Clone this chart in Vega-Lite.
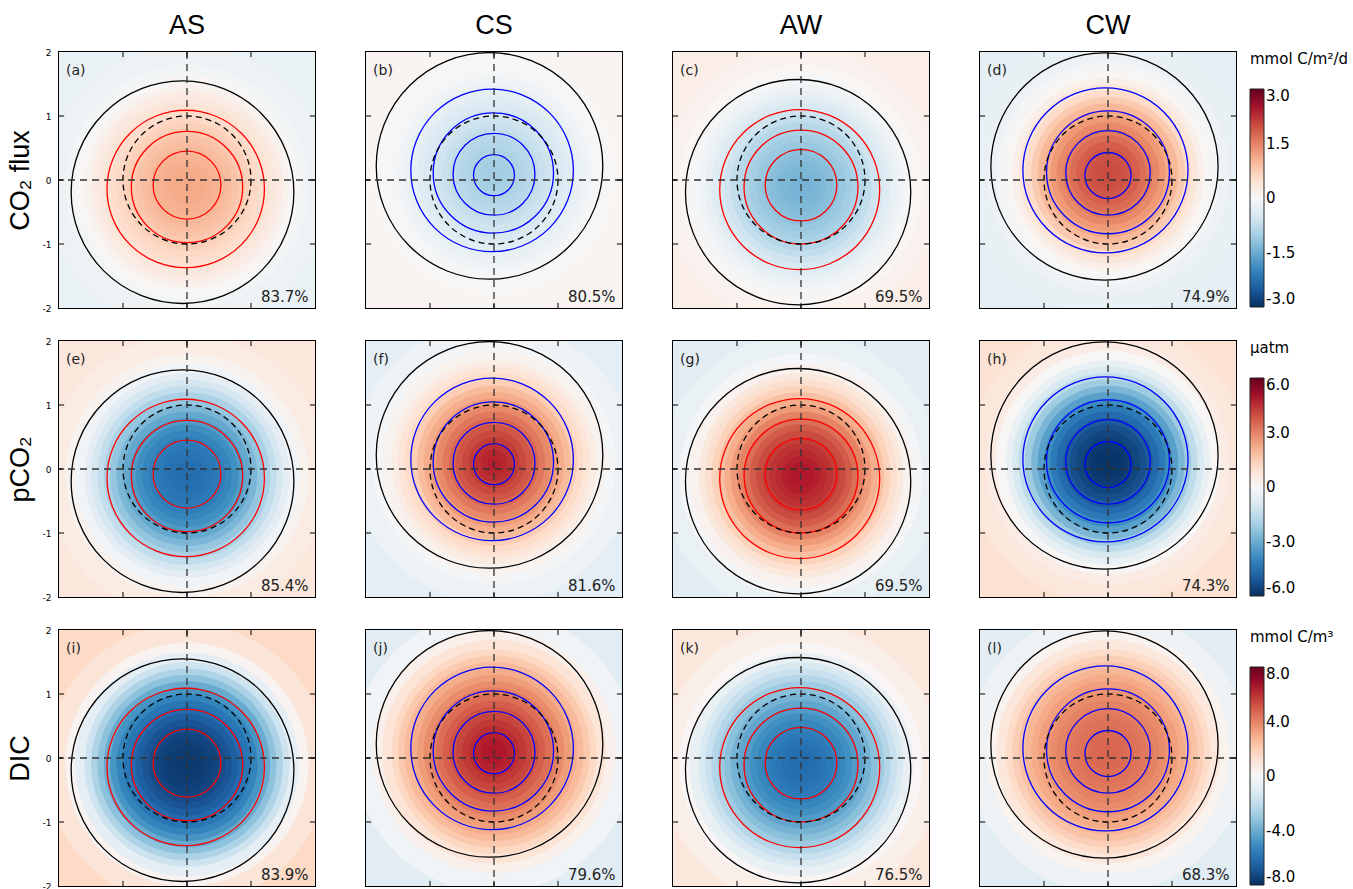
{
"$schema":"https://vega.github.io/schema/vega-lite/v6.json",
"background":"white",
"padding":{"left":6,"top":12,"right":0,"bottom":0},
"datasets":{"d":[
{"k":"g","m":"f","c":"AS","y":-0.1,"r":3,"v":-0.2},{"k":"g","m":"f","c":"AS","y":-0.1,"r":2.2,"v":-0.15},{"k":"g","m":"f","c":"AS","y":-0.1,"r":1.9,"v":-0.08},{"k":"g","m":"f","c":"AS","y":-0.1,"r":1.75,"v":0.02},{"k":"g","m":"f","c":"AS","y":-0.1,"r":1.6,"v":0.12},{"k":"g","m":"f","c":"AS","y":-0.1,"r":1.5,"v":0.23},{"k":"g","m":"f","c":"AS","y":-0.1,"r":1.4,"v":0.32},{"k":"g","m":"f","c":"AS","y":-0.1,"r":1.3,"v":0.43},{"k":"g","m":"f","c":"AS","y":-0.1,"r":1.2,"v":0.53},{"k":"g","m":"f","c":"AS","y":-0.1,"r":1.1,"v":0.62},{"k":"g","m":"f","c":"AS","y":-0.1,"r":1.0,"v":0.71},{"k":"g","m":"f","c":"AS","y":-0.1,"r":0.9,"v":0.79},{"k":"g","m":"f","c":"AS","y":-0.1,"r":0.8,"v":0.87},{"k":"g","m":"f","c":"AS","y":-0.1,"r":0.7,"v":0.94},{"k":"g","m":"f","c":"AS","y":-0.1,"r":0.6,"v":1.0},{"k":"g","m":"f","c":"AS","y":-0.1,"r":0.5,"v":1.05},{"k":"g","m":"f","c":"AS","y":-0.1,"r":0.4,"v":1.08},{"k":"g","m":"f","c":"AS","y":-0.1,"r":0.3,"v":1.12},{"k":"g","m":"f","c":"AS","y":-0.1,"r":0.2,"v":1.14},{"k":"g","m":"f","c":"AS","y":-0.1,"r":0.1,"v":1.15},
{"k":"g","m":"f","c":"CS","y":0.1,"r":3,"v":0.08},{"k":"g","m":"f","c":"CS","y":0.1,"r":2.2,"v":0.06},{"k":"g","m":"f","c":"CS","y":0.1,"r":1.9,"v":0.03},{"k":"g","m":"f","c":"CS","y":0.1,"r":1.75,"v":-0.02},{"k":"g","m":"f","c":"CS","y":0.1,"r":1.6,"v":-0.07},{"k":"g","m":"f","c":"CS","y":0.1,"r":1.5,"v":-0.13},{"k":"g","m":"f","c":"CS","y":0.1,"r":1.4,"v":-0.2},{"k":"g","m":"f","c":"CS","y":0.1,"r":1.3,"v":-0.28},{"k":"g","m":"f","c":"CS","y":0.1,"r":1.2,"v":-0.36},{"k":"g","m":"f","c":"CS","y":0.1,"r":1.1,"v":-0.45},{"k":"g","m":"f","c":"CS","y":0.1,"r":1.0,"v":-0.53},{"k":"g","m":"f","c":"CS","y":0.1,"r":0.9,"v":-0.61},{"k":"g","m":"f","c":"CS","y":0.1,"r":0.8,"v":-0.69},{"k":"g","m":"f","c":"CS","y":0.1,"r":0.7,"v":-0.77},{"k":"g","m":"f","c":"CS","y":0.1,"r":0.6,"v":-0.84},{"k":"g","m":"f","c":"CS","y":0.1,"r":0.5,"v":-0.9},{"k":"g","m":"f","c":"CS","y":0.1,"r":0.4,"v":-0.95},{"k":"g","m":"f","c":"CS","y":0.1,"r":0.3,"v":-1.0},{"k":"g","m":"f","c":"CS","y":0.1,"r":0.2,"v":-1.03},{"k":"g","m":"f","c":"CS","y":0.1,"r":0.1,"v":-1.05},
{"k":"g","m":"f","c":"AW","y":-0.1,"r":3,"v":0.2},{"k":"g","m":"f","c":"AW","y":-0.1,"r":2.2,"v":0.12},{"k":"g","m":"f","c":"AW","y":-0.1,"r":1.9,"v":0.05},{"k":"g","m":"f","c":"AW","y":-0.1,"r":1.75,"v":-0.05},{"k":"g","m":"f","c":"AW","y":-0.1,"r":1.6,"v":-0.14},{"k":"g","m":"f","c":"AW","y":-0.1,"r":1.5,"v":-0.24},{"k":"g","m":"f","c":"AW","y":-0.1,"r":1.4,"v":-0.36},{"k":"g","m":"f","c":"AW","y":-0.1,"r":1.3,"v":-0.48},{"k":"g","m":"f","c":"AW","y":-0.1,"r":1.2,"v":-0.62},{"k":"g","m":"f","c":"AW","y":-0.1,"r":1.1,"v":-0.75},{"k":"g","m":"f","c":"AW","y":-0.1,"r":1.0,"v":-0.86},{"k":"g","m":"f","c":"AW","y":-0.1,"r":0.9,"v":-0.96},{"k":"g","m":"f","c":"AW","y":-0.1,"r":0.8,"v":-1.05},{"k":"g","m":"f","c":"AW","y":-0.1,"r":0.7,"v":-1.14},{"k":"g","m":"f","c":"AW","y":-0.1,"r":0.6,"v":-1.22},{"k":"g","m":"f","c":"AW","y":-0.1,"r":0.5,"v":-1.28},{"k":"g","m":"f","c":"AW","y":-0.1,"r":0.4,"v":-1.33},{"k":"g","m":"f","c":"AW","y":-0.1,"r":0.3,"v":-1.37},{"k":"g","m":"f","c":"AW","y":-0.1,"r":0.2,"v":-1.4},{"k":"g","m":"f","c":"AW","y":-0.1,"r":0.1,"v":-1.42},
{"k":"g","m":"f","c":"CW","y":0.1,"r":3,"v":-0.28},{"k":"g","m":"f","c":"CW","y":0.1,"r":2.2,"v":-0.22},{"k":"g","m":"f","c":"CW","y":0.1,"r":1.9,"v":-0.16},{"k":"g","m":"f","c":"CW","y":0.1,"r":1.75,"v":-0.07},{"k":"g","m":"f","c":"CW","y":0.1,"r":1.6,"v":0.05},{"k":"g","m":"f","c":"CW","y":0.1,"r":1.5,"v":0.18},{"k":"g","m":"f","c":"CW","y":0.1,"r":1.4,"v":0.36},{"k":"g","m":"f","c":"CW","y":0.1,"r":1.3,"v":0.56},{"k":"g","m":"f","c":"CW","y":0.1,"r":1.2,"v":0.78},{"k":"g","m":"f","c":"CW","y":0.1,"r":1.1,"v":0.98},{"k":"g","m":"f","c":"CW","y":0.1,"r":1.0,"v":1.15},{"k":"g","m":"f","c":"CW","y":0.1,"r":0.9,"v":1.31},{"k":"g","m":"f","c":"CW","y":0.1,"r":0.8,"v":1.45},{"k":"g","m":"f","c":"CW","y":0.1,"r":0.7,"v":1.58},{"k":"g","m":"f","c":"CW","y":0.1,"r":0.6,"v":1.7},{"k":"g","m":"f","c":"CW","y":0.1,"r":0.5,"v":1.8},{"k":"g","m":"f","c":"CW","y":0.1,"r":0.4,"v":1.88},{"k":"g","m":"f","c":"CW","y":0.1,"r":0.3,"v":1.94},{"k":"g","m":"f","c":"CW","y":0.1,"r":0.2,"v":1.98},{"k":"g","m":"f","c":"CW","y":0.1,"r":0.1,"v":2.0},
{"k":"g","m":"p","c":"AS","y":-0.1,"r":3,"v":0.7},{"k":"g","m":"p","c":"AS","y":-0.1,"r":2.2,"v":0.5},{"k":"g","m":"p","c":"AS","y":-0.1,"r":1.9,"v":0.2},{"k":"g","m":"p","c":"AS","y":-0.1,"r":1.75,"v":-0.2},{"k":"g","m":"p","c":"AS","y":-0.1,"r":1.6,"v":-0.65},{"k":"g","m":"p","c":"AS","y":-0.1,"r":1.5,"v":-1.05},{"k":"g","m":"p","c":"AS","y":-0.1,"r":1.4,"v":-1.5},{"k":"g","m":"p","c":"AS","y":-0.1,"r":1.3,"v":-1.95},{"k":"g","m":"p","c":"AS","y":-0.1,"r":1.2,"v":-2.35},{"k":"g","m":"p","c":"AS","y":-0.1,"r":1.1,"v":-2.75},{"k":"g","m":"p","c":"AS","y":-0.1,"r":1.0,"v":-3.1},{"k":"g","m":"p","c":"AS","y":-0.1,"r":0.9,"v":-3.4},{"k":"g","m":"p","c":"AS","y":-0.1,"r":0.8,"v":-3.7},{"k":"g","m":"p","c":"AS","y":-0.1,"r":0.7,"v":-3.95},{"k":"g","m":"p","c":"AS","y":-0.1,"r":0.6,"v":-4.15},{"k":"g","m":"p","c":"AS","y":-0.1,"r":0.5,"v":-4.3},{"k":"g","m":"p","c":"AS","y":-0.1,"r":0.4,"v":-4.4},{"k":"g","m":"p","c":"AS","y":-0.1,"r":0.3,"v":-4.5},{"k":"g","m":"p","c":"AS","y":-0.1,"r":0.2,"v":-4.57},{"k":"g","m":"p","c":"AS","y":-0.1,"r":0.1,"v":-4.6},
{"k":"g","m":"p","c":"CS","y":0.1,"r":3,"v":-0.6},{"k":"g","m":"p","c":"CS","y":0.1,"r":2.2,"v":-0.35},{"k":"g","m":"p","c":"CS","y":0.1,"r":1.9,"v":-0.1},{"k":"g","m":"p","c":"CS","y":0.1,"r":1.75,"v":0.2},{"k":"g","m":"p","c":"CS","y":0.1,"r":1.6,"v":0.5},{"k":"g","m":"p","c":"CS","y":0.1,"r":1.5,"v":0.8},{"k":"g","m":"p","c":"CS","y":0.1,"r":1.4,"v":1.15},{"k":"g","m":"p","c":"CS","y":0.1,"r":1.3,"v":1.5},{"k":"g","m":"p","c":"CS","y":0.1,"r":1.2,"v":1.9},{"k":"g","m":"p","c":"CS","y":0.1,"r":1.1,"v":2.25},{"k":"g","m":"p","c":"CS","y":0.1,"r":1.0,"v":2.6},{"k":"g","m":"p","c":"CS","y":0.1,"r":0.9,"v":2.9},{"k":"g","m":"p","c":"CS","y":0.1,"r":0.8,"v":3.2},{"k":"g","m":"p","c":"CS","y":0.1,"r":0.7,"v":3.5},{"k":"g","m":"p","c":"CS","y":0.1,"r":0.6,"v":3.8},{"k":"g","m":"p","c":"CS","y":0.1,"r":0.5,"v":4.05},{"k":"g","m":"p","c":"CS","y":0.1,"r":0.4,"v":4.3},{"k":"g","m":"p","c":"CS","y":0.1,"r":0.3,"v":4.5},{"k":"g","m":"p","c":"CS","y":0.1,"r":0.2,"v":4.65},{"k":"g","m":"p","c":"CS","y":0.1,"r":0.1,"v":4.75},
{"k":"g","m":"p","c":"AW","y":-0.1,"r":3,"v":-0.7},{"k":"g","m":"p","c":"AW","y":-0.1,"r":2.2,"v":-0.4},{"k":"g","m":"p","c":"AW","y":-0.1,"r":1.9,"v":-0.1},{"k":"g","m":"p","c":"AW","y":-0.1,"r":1.75,"v":0.25},{"k":"g","m":"p","c":"AW","y":-0.1,"r":1.6,"v":0.65},{"k":"g","m":"p","c":"AW","y":-0.1,"r":1.5,"v":1.0},{"k":"g","m":"p","c":"AW","y":-0.1,"r":1.4,"v":1.4},{"k":"g","m":"p","c":"AW","y":-0.1,"r":1.3,"v":1.8},{"k":"g","m":"p","c":"AW","y":-0.1,"r":1.2,"v":2.2},{"k":"g","m":"p","c":"AW","y":-0.1,"r":1.1,"v":2.6},{"k":"g","m":"p","c":"AW","y":-0.1,"r":1.0,"v":3.0},{"k":"g","m":"p","c":"AW","y":-0.1,"r":0.9,"v":3.35},{"k":"g","m":"p","c":"AW","y":-0.1,"r":0.8,"v":3.7},{"k":"g","m":"p","c":"AW","y":-0.1,"r":0.7,"v":4.0},{"k":"g","m":"p","c":"AW","y":-0.1,"r":0.6,"v":4.25},{"k":"g","m":"p","c":"AW","y":-0.1,"r":0.5,"v":4.45},{"k":"g","m":"p","c":"AW","y":-0.1,"r":0.4,"v":4.6},{"k":"g","m":"p","c":"AW","y":-0.1,"r":0.3,"v":4.72},{"k":"g","m":"p","c":"AW","y":-0.1,"r":0.2,"v":4.8},{"k":"g","m":"p","c":"AW","y":-0.1,"r":0.1,"v":4.85},
{"k":"g","m":"p","c":"CW","y":0.1,"r":3,"v":0.9},{"k":"g","m":"p","c":"CW","y":0.1,"r":2.2,"v":0.7},{"k":"g","m":"p","c":"CW","y":0.1,"r":1.9,"v":0.45},{"k":"g","m":"p","c":"CW","y":0.1,"r":1.75,"v":0.05},{"k":"g","m":"p","c":"CW","y":0.1,"r":1.6,"v":-0.45},{"k":"g","m":"p","c":"CW","y":0.1,"r":1.5,"v":-0.95},{"k":"g","m":"p","c":"CW","y":0.1,"r":1.4,"v":-1.55},{"k":"g","m":"p","c":"CW","y":0.1,"r":1.3,"v":-2.15},{"k":"g","m":"p","c":"CW","y":0.1,"r":1.2,"v":-2.75},{"k":"g","m":"p","c":"CW","y":0.1,"r":1.1,"v":-3.3},{"k":"g","m":"p","c":"CW","y":0.1,"r":1.0,"v":-3.8},{"k":"g","m":"p","c":"CW","y":0.1,"r":0.9,"v":-4.3},{"k":"g","m":"p","c":"CW","y":0.1,"r":0.8,"v":-4.7},{"k":"g","m":"p","c":"CW","y":0.1,"r":0.7,"v":-5.05},{"k":"g","m":"p","c":"CW","y":0.1,"r":0.6,"v":-5.3},{"k":"g","m":"p","c":"CW","y":0.1,"r":0.5,"v":-5.5},{"k":"g","m":"p","c":"CW","y":0.1,"r":0.4,"v":-5.65},{"k":"g","m":"p","c":"CW","y":0.1,"r":0.3,"v":-5.78},{"k":"g","m":"p","c":"CW","y":0.1,"r":0.2,"v":-5.85},{"k":"g","m":"p","c":"CW","y":0.1,"r":0.1,"v":-5.9},
{"k":"g","m":"d","c":"AS","y":-0.1,"r":3,"v":1.6},{"k":"g","m":"d","c":"AS","y":-0.1,"r":2.2,"v":1.0},{"k":"g","m":"d","c":"AS","y":-0.1,"r":1.9,"v":0.2},{"k":"g","m":"d","c":"AS","y":-0.1,"r":1.75,"v":-0.8},{"k":"g","m":"d","c":"AS","y":-0.1,"r":1.6,"v":-1.7},{"k":"g","m":"d","c":"AS","y":-0.1,"r":1.5,"v":-2.5},{"k":"g","m":"d","c":"AS","y":-0.1,"r":1.4,"v":-3.3},{"k":"g","m":"d","c":"AS","y":-0.1,"r":1.3,"v":-4.05},{"k":"g","m":"d","c":"AS","y":-0.1,"r":1.2,"v":-4.75},{"k":"g","m":"d","c":"AS","y":-0.1,"r":1.1,"v":-5.35},{"k":"g","m":"d","c":"AS","y":-0.1,"r":1.0,"v":-5.85},{"k":"g","m":"d","c":"AS","y":-0.1,"r":0.9,"v":-6.25},{"k":"g","m":"d","c":"AS","y":-0.1,"r":0.8,"v":-6.6},{"k":"g","m":"d","c":"AS","y":-0.1,"r":0.7,"v":-6.9},{"k":"g","m":"d","c":"AS","y":-0.1,"r":0.6,"v":-7.15},{"k":"g","m":"d","c":"AS","y":-0.1,"r":0.5,"v":-7.35},{"k":"g","m":"d","c":"AS","y":-0.1,"r":0.4,"v":-7.5},{"k":"g","m":"d","c":"AS","y":-0.1,"r":0.3,"v":-7.6},{"k":"g","m":"d","c":"AS","y":-0.1,"r":0.2,"v":-7.65},{"k":"g","m":"d","c":"AS","y":-0.1,"r":0.1,"v":-7.7},
{"k":"g","m":"d","c":"CS","y":0.1,"r":3,"v":-0.9},{"k":"g","m":"d","c":"CS","y":0.1,"r":2.2,"v":-0.3},{"k":"g","m":"d","c":"CS","y":0.1,"r":1.9,"v":0.4},{"k":"g","m":"d","c":"CS","y":0.1,"r":1.75,"v":1.1},{"k":"g","m":"d","c":"CS","y":0.1,"r":1.6,"v":1.7},{"k":"g","m":"d","c":"CS","y":0.1,"r":1.5,"v":2.15},{"k":"g","m":"d","c":"CS","y":0.1,"r":1.4,"v":2.6},{"k":"g","m":"d","c":"CS","y":0.1,"r":1.3,"v":3.0},{"k":"g","m":"d","c":"CS","y":0.1,"r":1.2,"v":3.4},{"k":"g","m":"d","c":"CS","y":0.1,"r":1.1,"v":3.8},{"k":"g","m":"d","c":"CS","y":0.1,"r":1.0,"v":4.15},{"k":"g","m":"d","c":"CS","y":0.1,"r":0.9,"v":4.5},{"k":"g","m":"d","c":"CS","y":0.1,"r":0.8,"v":4.85},{"k":"g","m":"d","c":"CS","y":0.1,"r":0.7,"v":5.2},{"k":"g","m":"d","c":"CS","y":0.1,"r":0.6,"v":5.5},{"k":"g","m":"d","c":"CS","y":0.1,"r":0.5,"v":5.8},{"k":"g","m":"d","c":"CS","y":0.1,"r":0.4,"v":6.05},{"k":"g","m":"d","c":"CS","y":0.1,"r":0.3,"v":6.25},{"k":"g","m":"d","c":"CS","y":0.1,"r":0.2,"v":6.4},{"k":"g","m":"d","c":"CS","y":0.1,"r":0.1,"v":6.5},
{"k":"g","m":"d","c":"AW","y":-0.1,"r":3,"v":0.9},{"k":"g","m":"d","c":"AW","y":-0.1,"r":2.2,"v":0.5},{"k":"g","m":"d","c":"AW","y":-0.1,"r":1.9,"v":0.1},{"k":"g","m":"d","c":"AW","y":-0.1,"r":1.75,"v":-0.6},{"k":"g","m":"d","c":"AW","y":-0.1,"r":1.6,"v":-1.25},{"k":"g","m":"d","c":"AW","y":-0.1,"r":1.5,"v":-1.8},{"k":"g","m":"d","c":"AW","y":-0.1,"r":1.4,"v":-2.35},{"k":"g","m":"d","c":"AW","y":-0.1,"r":1.3,"v":-2.9},{"k":"g","m":"d","c":"AW","y":-0.1,"r":1.2,"v":-3.35},{"k":"g","m":"d","c":"AW","y":-0.1,"r":1.1,"v":-3.8},{"k":"g","m":"d","c":"AW","y":-0.1,"r":1.0,"v":-4.2},{"k":"g","m":"d","c":"AW","y":-0.1,"r":0.9,"v":-4.55},{"k":"g","m":"d","c":"AW","y":-0.1,"r":0.8,"v":-4.9},{"k":"g","m":"d","c":"AW","y":-0.1,"r":0.7,"v":-5.2},{"k":"g","m":"d","c":"AW","y":-0.1,"r":0.6,"v":-5.5},{"k":"g","m":"d","c":"AW","y":-0.1,"r":0.5,"v":-5.7},{"k":"g","m":"d","c":"AW","y":-0.1,"r":0.4,"v":-5.9},{"k":"g","m":"d","c":"AW","y":-0.1,"r":0.3,"v":-6.05},{"k":"g","m":"d","c":"AW","y":-0.1,"r":0.2,"v":-6.15},{"k":"g","m":"d","c":"AW","y":-0.1,"r":0.1,"v":-6.2},
{"k":"g","m":"d","c":"CW","y":0.1,"r":3,"v":-0.9},{"k":"g","m":"d","c":"CW","y":0.1,"r":2.2,"v":-0.4},{"k":"g","m":"d","c":"CW","y":0.1,"r":1.9,"v":0.25},{"k":"g","m":"d","c":"CW","y":0.1,"r":1.75,"v":0.9},{"k":"g","m":"d","c":"CW","y":0.1,"r":1.6,"v":1.5},{"k":"g","m":"d","c":"CW","y":0.1,"r":1.5,"v":1.95},{"k":"g","m":"d","c":"CW","y":0.1,"r":1.4,"v":2.35},{"k":"g","m":"d","c":"CW","y":0.1,"r":1.3,"v":2.7},{"k":"g","m":"d","c":"CW","y":0.1,"r":1.2,"v":3.05},{"k":"g","m":"d","c":"CW","y":0.1,"r":1.1,"v":3.35},{"k":"g","m":"d","c":"CW","y":0.1,"r":1.0,"v":3.6},{"k":"g","m":"d","c":"CW","y":0.1,"r":0.9,"v":3.8},{"k":"g","m":"d","c":"CW","y":0.1,"r":0.8,"v":4.0},{"k":"g","m":"d","c":"CW","y":0.1,"r":0.7,"v":4.15},{"k":"g","m":"d","c":"CW","y":0.1,"r":0.6,"v":4.3},{"k":"g","m":"d","c":"CW","y":0.1,"r":0.5,"v":4.4},{"k":"g","m":"d","c":"CW","y":0.1,"r":0.4,"v":4.5},{"k":"g","m":"d","c":"CW","y":0.1,"r":0.3,"v":4.6},{"k":"g","m":"d","c":"CW","y":0.1,"r":0.2,"v":4.65},{"k":"g","m":"d","c":"CW","y":0.1,"r":0.1,"v":4.7},
{"k":"c","c":"AS","x":-0.07,"y":-0.19,"r":1.74,"s":"zero"},{"k":"c","c":"AS","x":-0.02,"y":-0.14,"r":1.23,"s":"pos"},{"k":"c","c":"AS","x":0,"y":-0.11,"r":0.87,"s":"pos"},{"k":"c","c":"AS","x":0,"y":-0.08,"r":0.53,"s":"pos"},
{"k":"c","c":"CS","x":-0.07,"y":0.22,"r":1.77,"s":"zero"},{"k":"c","c":"CS","x":-0.03,"y":0.15,"r":1.27,"s":"neg"},{"k":"c","c":"CS","x":-0.01,"y":0.11,"r":0.94,"s":"neg"},{"k":"c","c":"CS","x":0,"y":0.09,"r":0.64,"s":"neg"},{"k":"c","c":"CS","x":0,"y":0.075,"r":0.32,"s":"neg"},
{"k":"c","c":"AW","x":-0.045,"y":-0.19,"r":1.76,"s":"zero"},{"k":"c","c":"AW","x":-0.02,"y":-0.15,"r":1.25,"s":"pos"},{"k":"c","c":"AW","x":0,"y":-0.11,"r":0.89,"s":"pos"},{"k":"c","c":"AW","x":0,"y":-0.08,"r":0.56,"s":"pos"},
{"k":"c","c":"CW","x":-0.055,"y":0.21,"r":1.775,"s":"zero"},{"k":"c","c":"CW","x":-0.04,"y":0.15,"r":1.29,"s":"neg"},{"k":"c","c":"CW","x":0,"y":0.12,"r":0.96,"s":"neg"},{"k":"c","c":"CW","x":0,"y":0.11,"r":0.66,"s":"neg"},{"k":"c","c":"CW","x":0,"y":0.07,"r":0.36,"s":"neg"},
{"k":"o","c":"AS","r":1},{"k":"o","c":"CS","r":1},{"k":"o","c":"AW","r":1},{"k":"o","c":"CW","r":1},
{"k":"tk","c":"AS","t":-1},{"k":"tk","c":"AS","t":0},{"k":"tk","c":"AS","t":1},
{"k":"tk","c":"CS","t":-1},{"k":"tk","c":"CS","t":0},{"k":"tk","c":"CS","t":1},
{"k":"tk","c":"AW","t":-1},{"k":"tk","c":"AW","t":0},{"k":"tk","c":"AW","t":1},
{"k":"tk","c":"CW","t":-1},{"k":"tk","c":"CW","t":0},{"k":"tk","c":"CW","t":1},
{"k":"t","m":"f","c":"AS","tag":"(a)","pct":"83.7%"},{"k":"t","m":"f","c":"CS","tag":"(b)","pct":"80.5%"},{"k":"t","m":"f","c":"AW","tag":"(c)","pct":"69.5%"},{"k":"t","m":"f","c":"CW","tag":"(d)","pct":"74.9%"},
{"k":"t","m":"p","c":"AS","tag":"(e)","pct":"85.4%"},{"k":"t","m":"p","c":"CS","tag":"(f)","pct":"81.6%"},{"k":"t","m":"p","c":"AW","tag":"(g)","pct":"69.5%"},{"k":"t","m":"p","c":"CW","tag":"(h)","pct":"74.3%"},
{"k":"t","m":"d","c":"AS","tag":"(i)","pct":"83.9%"},{"k":"t","m":"d","c":"CS","tag":"(j)","pct":"79.6%"},{"k":"t","m":"d","c":"AW","tag":"(k)","pct":"76.5%"},{"k":"t","m":"d","c":"CW","tag":"(l)","pct":"68.3%"}
]},
"vconcat":[
{"data":{"name":"d"},
 "facet":{"column":{"field":"c","type":"nominal","sort":["AS","CS","AW","CW"],"title":null,"header":{"labelFontSize":27,"labelFont":"Liberation Sans","labelColor":"black","labelPadding":10}}},
 "spacing":47,
 "spec":{"width":256,"height":256,"layer":[
  {"transform":[{"filter":"datum.k=='g'&&datum.m=='f'"}],"mark":{"type":"point","shape":"circle","filled":true,"opacity":1,"strokeOpacity":0,"clip":true},
   "encoding":{"x":{"datum":0,"type":"quantitative","scale":{"domain":[-2,2],"nice":false,"zero":false},"axis":null},
    "y":{"field":"y","type":"quantitative","scale":{"domain":[-2,2],"nice":false,"zero":false},"axis":{"values":[-2,-1,0,1,2],"labelExpr":"(datum.value<0?'-':'')+abs(datum.value)","title":"CO₂ flux"}},
    "size":{"field":"r","type":"quantitative","scale":{"type":"pow","exponent":2,"domain":[0,2],"range":[0,65536]},"legend":null},
    "color":{"field":"v","type":"quantitative","scale":{"domain":[-3,-2.4,-1.8,-1.2,-0.6,0,0.6,1.2,1.8,2.4,3],"range":["#053061","#2166ac","#4393c3","#92c5de","#d1e5f0","#f7f7f7","#fddbc7","#f4a582","#d6604d","#b2182b","#67001f"]},"legend":{"title":"mmol C/m²/d","values":[-3,-1.5,0,1.5,3],"labelExpr":"datum.value==0?'0':(datum.value<0?'-':'')+format(abs(datum.value),'.1f')"}},
    "order":{"field":"r","type":"quantitative","sort":"descending"}}},
  {"transform":[{"filter":"datum.k=='c'"}],"mark":{"type":"point","shape":"circle","filled":false,"opacity":1,"strokeWidth":1.3,"clip":true},
   "encoding":{"x":{"field":"x","type":"quantitative","axis":null},"y":{"field":"y","type":"quantitative"},"size":{"field":"r","type":"quantitative","legend":null},
    "stroke":{"field":"s","type":"nominal","scale":{"domain":["pos","neg","zero"],"range":["#ff0000","#0000ff","#000000"]},"legend":null}}},
  {"transform":[{"filter":"datum.k=='o'"}],"mark":{"type":"point","shape":"circle","filled":false,"opacity":1,"stroke":"black","strokeWidth":1.3,"strokeDash":[6,4]},
   "encoding":{"x":{"datum":0,"type":"quantitative","axis":null},"y":{"datum":0,"type":"quantitative"},"size":{"field":"r","type":"quantitative","legend":null}}},
  {"transform":[{"filter":"datum.k=='t'&&datum.m=='f'"}],"mark":{"type":"rule","color":"#333","strokeWidth":1.3,"strokeDash":[7,5]},"encoding":{"x":{"datum":0,"type":"quantitative","axis":null}}},
  {"transform":[{"filter":"datum.k=='t'&&datum.m=='f'"}],"mark":{"type":"rule","color":"#333","strokeWidth":1.3,"strokeDash":[7,5]},"encoding":{"y":{"datum":0,"type":"quantitative"}}},
  {"transform":[{"filter":"datum.k=='tk'"}],"mark":{"type":"rule","color":"black"},"encoding":{"y":{"field":"t","type":"quantitative"},"x":{"datum":-2,"type":"quantitative","axis":null},"x2":{"datum":-1.92}}},
  {"transform":[{"filter":"datum.k=='tk'"}],"mark":{"type":"rule","color":"black"},"encoding":{"y":{"field":"t","type":"quantitative"},"x":{"datum":2,"type":"quantitative","axis":null},"x2":{"datum":1.92}}},
  {"transform":[{"filter":"datum.k=='tk'"}],"mark":{"type":"rule","color":"black"},"encoding":{"x":{"field":"t","type":"quantitative","axis":null},"y":{"datum":2,"type":"quantitative"},"y2":{"datum":1.92}}},
  {"transform":[{"filter":"datum.k=='tk'"}],"mark":{"type":"rule","color":"black"},"encoding":{"x":{"field":"t","type":"quantitative","axis":null},"y":{"datum":-2,"type":"quantitative"},"y2":{"datum":-1.92}}},
  {"transform":[{"filter":"datum.k=='t'&&datum.m=='f'"}],"mark":{"type":"text","align":"left","baseline":"middle","fontSize":14,"color":"#222"},"encoding":{"x":{"datum":-1.89,"type":"quantitative","axis":null},"y":{"datum":1.7,"type":"quantitative"},"text":{"field":"tag"}}},
  {"transform":[{"filter":"datum.k=='t'&&datum.m=='f'"}],"mark":{"type":"text","align":"right","baseline":"middle","fontSize":15,"color":"#222"},"encoding":{"x":{"datum":1.9,"type":"quantitative","axis":null},"y":{"datum":-1.83,"type":"quantitative"},"text":{"field":"pct"}}}
 ]}},
{"data":{"name":"d"},
 "facet":{"column":{"field":"c","type":"nominal","sort":["AS","CS","AW","CW"],"title":null,"header":{"labels":false}}},
 "spacing":47,
 "spec":{"width":256,"height":256,"layer":[
  {"transform":[{"filter":"datum.k=='g'&&datum.m=='p'"}],"mark":{"type":"point","shape":"circle","filled":true,"opacity":1,"strokeOpacity":0,"clip":true},
   "encoding":{"x":{"datum":0,"type":"quantitative","scale":{"domain":[-2,2],"nice":false,"zero":false},"axis":null},
    "y":{"field":"y","type":"quantitative","scale":{"domain":[-2,2],"nice":false,"zero":false},"axis":{"values":[-2,-1,0,1,2],"labelExpr":"(datum.value<0?'-':'')+abs(datum.value)","title":"pCO₂"}},
    "size":{"field":"r","type":"quantitative","scale":{"type":"pow","exponent":2,"domain":[0,2],"range":[0,65536]},"legend":null},
    "color":{"field":"v","type":"quantitative","scale":{"domain":[-6,-4.8,-3.6,-2.4,-1.2,0,1.2,2.4,3.6,4.8,6],"range":["#053061","#2166ac","#4393c3","#92c5de","#d1e5f0","#f7f7f7","#fddbc7","#f4a582","#d6604d","#b2182b","#67001f"]},"legend":{"title":"μatm","values":[-6,-3,0,3,6],"labelExpr":"datum.value==0?'0':(datum.value<0?'-':'')+format(abs(datum.value),'.1f')"}},
    "order":{"field":"r","type":"quantitative","sort":"descending"}}},
  {"transform":[{"filter":"datum.k=='c'"}],"mark":{"type":"point","shape":"circle","filled":false,"opacity":1,"strokeWidth":1.3,"clip":true},
   "encoding":{"x":{"field":"x","type":"quantitative","axis":null},"y":{"field":"y","type":"quantitative"},"size":{"field":"r","type":"quantitative","legend":null},
    "stroke":{"field":"s","type":"nominal","scale":{"domain":["pos","neg","zero"],"range":["#ff0000","#0000ff","#000000"]},"legend":null}}},
  {"transform":[{"filter":"datum.k=='o'"}],"mark":{"type":"point","shape":"circle","filled":false,"opacity":1,"stroke":"black","strokeWidth":1.3,"strokeDash":[6,4]},
   "encoding":{"x":{"datum":0,"type":"quantitative","axis":null},"y":{"datum":0,"type":"quantitative"},"size":{"field":"r","type":"quantitative","legend":null}}},
  {"transform":[{"filter":"datum.k=='t'&&datum.m=='p'"}],"mark":{"type":"rule","color":"#333","strokeWidth":1.3,"strokeDash":[7,5]},"encoding":{"x":{"datum":0,"type":"quantitative","axis":null}}},
  {"transform":[{"filter":"datum.k=='t'&&datum.m=='p'"}],"mark":{"type":"rule","color":"#333","strokeWidth":1.3,"strokeDash":[7,5]},"encoding":{"y":{"datum":0,"type":"quantitative"}}},
  {"transform":[{"filter":"datum.k=='tk'"}],"mark":{"type":"rule","color":"black"},"encoding":{"y":{"field":"t","type":"quantitative"},"x":{"datum":-2,"type":"quantitative","axis":null},"x2":{"datum":-1.92}}},
  {"transform":[{"filter":"datum.k=='tk'"}],"mark":{"type":"rule","color":"black"},"encoding":{"y":{"field":"t","type":"quantitative"},"x":{"datum":2,"type":"quantitative","axis":null},"x2":{"datum":1.92}}},
  {"transform":[{"filter":"datum.k=='tk'"}],"mark":{"type":"rule","color":"black"},"encoding":{"x":{"field":"t","type":"quantitative","axis":null},"y":{"datum":2,"type":"quantitative"},"y2":{"datum":1.92}}},
  {"transform":[{"filter":"datum.k=='tk'"}],"mark":{"type":"rule","color":"black"},"encoding":{"x":{"field":"t","type":"quantitative","axis":null},"y":{"datum":-2,"type":"quantitative"},"y2":{"datum":-1.92}}},
  {"transform":[{"filter":"datum.k=='t'&&datum.m=='p'"}],"mark":{"type":"text","align":"left","baseline":"middle","fontSize":14,"color":"#222"},"encoding":{"x":{"datum":-1.89,"type":"quantitative","axis":null},"y":{"datum":1.7,"type":"quantitative"},"text":{"field":"tag"}}},
  {"transform":[{"filter":"datum.k=='t'&&datum.m=='p'"}],"mark":{"type":"text","align":"right","baseline":"middle","fontSize":15,"color":"#222"},"encoding":{"x":{"datum":1.9,"type":"quantitative","axis":null},"y":{"datum":-1.83,"type":"quantitative"},"text":{"field":"pct"}}}
 ]}},
{"data":{"name":"d"},
 "facet":{"column":{"field":"c","type":"nominal","sort":["AS","CS","AW","CW"],"title":null,"header":{"labels":false}}},
 "spacing":47,
 "spec":{"width":256,"height":256,"layer":[
  {"transform":[{"filter":"datum.k=='g'&&datum.m=='d'"}],"mark":{"type":"point","shape":"circle","filled":true,"opacity":1,"strokeOpacity":0,"clip":true},
   "encoding":{"x":{"datum":0,"type":"quantitative","scale":{"domain":[-2,2],"nice":false,"zero":false},"axis":null},
    "y":{"field":"y","type":"quantitative","scale":{"domain":[-2,2],"nice":false,"zero":false},"axis":{"values":[-2,-1,0,1,2],"labelExpr":"(datum.value<0?'-':'')+abs(datum.value)","title":"DIC"}},
    "size":{"field":"r","type":"quantitative","scale":{"type":"pow","exponent":2,"domain":[0,2],"range":[0,65536]},"legend":null},
    "color":{"field":"v","type":"quantitative","scale":{"domain":[-8,-6.4,-4.8,-3.2,-1.6,0,1.6,3.2,4.8,6.4,8],"range":["#053061","#2166ac","#4393c3","#92c5de","#d1e5f0","#f7f7f7","#fddbc7","#f4a582","#d6604d","#b2182b","#67001f"]},"legend":{"title":"mmol C/m³","values":[-8,-4,0,4,8],"labelExpr":"datum.value==0?'0':(datum.value<0?'-':'')+format(abs(datum.value),'.1f')"}},
    "order":{"field":"r","type":"quantitative","sort":"descending"}}},
  {"transform":[{"filter":"datum.k=='c'"}],"mark":{"type":"point","shape":"circle","filled":false,"opacity":1,"strokeWidth":1.3,"clip":true},
   "encoding":{"x":{"field":"x","type":"quantitative","axis":null},"y":{"field":"y","type":"quantitative"},"size":{"field":"r","type":"quantitative","legend":null},
    "stroke":{"field":"s","type":"nominal","scale":{"domain":["pos","neg","zero"],"range":["#ff0000","#0000ff","#000000"]},"legend":null}}},
  {"transform":[{"filter":"datum.k=='o'"}],"mark":{"type":"point","shape":"circle","filled":false,"opacity":1,"stroke":"black","strokeWidth":1.3,"strokeDash":[6,4]},
   "encoding":{"x":{"datum":0,"type":"quantitative","axis":null},"y":{"datum":0,"type":"quantitative"},"size":{"field":"r","type":"quantitative","legend":null}}},
  {"transform":[{"filter":"datum.k=='t'&&datum.m=='d'"}],"mark":{"type":"rule","color":"#333","strokeWidth":1.3,"strokeDash":[7,5]},"encoding":{"x":{"datum":0,"type":"quantitative","axis":null}}},
  {"transform":[{"filter":"datum.k=='t'&&datum.m=='d'"}],"mark":{"type":"rule","color":"#333","strokeWidth":1.3,"strokeDash":[7,5]},"encoding":{"y":{"datum":0,"type":"quantitative"}}},
  {"transform":[{"filter":"datum.k=='tk'"}],"mark":{"type":"rule","color":"black"},"encoding":{"y":{"field":"t","type":"quantitative"},"x":{"datum":-2,"type":"quantitative","axis":null},"x2":{"datum":-1.92}}},
  {"transform":[{"filter":"datum.k=='tk'"}],"mark":{"type":"rule","color":"black"},"encoding":{"y":{"field":"t","type":"quantitative"},"x":{"datum":2,"type":"quantitative","axis":null},"x2":{"datum":1.92}}},
  {"transform":[{"filter":"datum.k=='tk'"}],"mark":{"type":"rule","color":"black"},"encoding":{"x":{"field":"t","type":"quantitative","axis":null},"y":{"datum":2,"type":"quantitative"},"y2":{"datum":1.92}}},
  {"transform":[{"filter":"datum.k=='tk'"}],"mark":{"type":"rule","color":"black"},"encoding":{"x":{"field":"t","type":"quantitative","axis":null},"y":{"datum":-2,"type":"quantitative"},"y2":{"datum":-1.92}}},
  {"transform":[{"filter":"datum.k=='t'&&datum.m=='d'"}],"mark":{"type":"text","align":"left","baseline":"middle","fontSize":14,"color":"#222"},"encoding":{"x":{"datum":-1.89,"type":"quantitative","axis":null},"y":{"datum":1.7,"type":"quantitative"},"text":{"field":"tag"}}},
  {"transform":[{"filter":"datum.k=='t'&&datum.m=='d'"}],"mark":{"type":"text","align":"right","baseline":"middle","fontSize":15,"color":"#222"},"encoding":{"x":{"datum":1.9,"type":"quantitative","axis":null},"y":{"datum":-1.83,"type":"quantitative"},"text":{"field":"pct"}}}
 ]}}
],
"spacing":24,
"resolve":{"scale":{"color":"independent"}},
"config":{
 "view":{"stroke":"black","strokeWidth":2},
 "font":"DejaVu Sans",
 "axis":{"grid":false,"domain":false,"ticks":false,"labelFlush":false,"labelOverlap":false,"labelColor":"black","labelFontSize":9,"labelPadding":6,"titleColor":"black","titleFont":"Liberation Sans","titleFontSize":27,"titleFontWeight":"normal","titlePadding":8},
 "legend":{"titleFont":"DejaVu Sans","titleFontSize":15,"titleFontWeight":"normal","titleColor":"black","labelFont":"DejaVu Sans","labelFontSize":15,"labelColor":"black","gradientLength":218,"gradientThickness":14,"gradientStrokeColor":"#222","gradientStrokeWidth":1,"labelOffset":5,"titlePadding":22,"offset":12,"labelOverlap":false,"labelBaseline":"middle"}
}
}
